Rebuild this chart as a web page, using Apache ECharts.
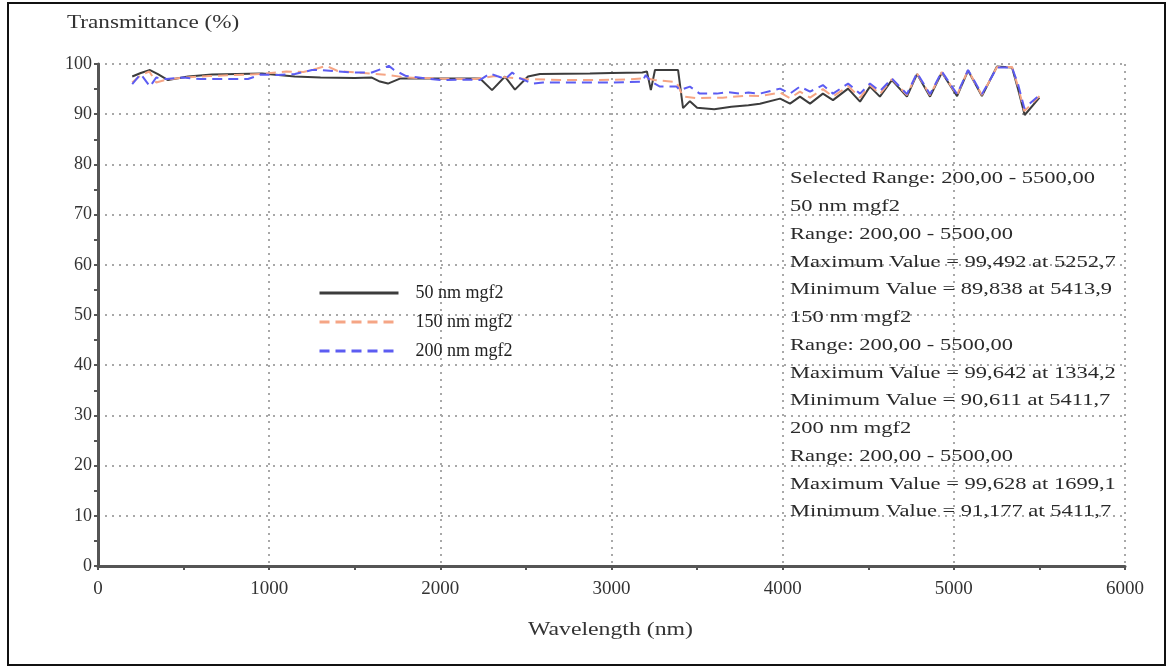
<!DOCTYPE html>
<html>
<head>
<meta charset="utf-8">
<script src="https://cdn.jsdelivr.net/npm/echarts@6/dist/echarts.min.js"></script>
<style>html,body{margin:0;padding:0;background:#fff;}#c{width:1171px;height:670px;}</style>
</head>
<body>
<div id="c"></div>
<script>
// ---- data ----
const seriesNames = ['50 nm mgf2', '150 nm mgf2', '200 nm mgf2'];

const wl50 = [200,250,304,350,409,526,666,958,1150,1300,1500,1600,1647,1694,1764,2000,2232,2302,2378,2436,2512,2582,2874,3000,3180,3207,3230,3254,3389,3418,3458,3500,3600,3700,3800,3867,3985,4043,4101,4160,4235,4294,4382,4452,4510,4568,4638,4726,4785,4861,4930,5019,5083,5164,5252,5340,5375,5414,5500];
const t50 = [97.5,98.2,98.8,98.0,96.8,97.5,97.9,98.1,97.5,97.3,97.2,97.3,96.5,96.1,97.1,97.1,97.1,94.8,97.5,94.9,97.5,98.0,98.1,98.2,98.3,98.5,94.8,98.8,98.8,91.2,92.6,91.3,91.0,91.5,91.8,92.1,93.1,92.1,93.5,92.1,94.1,92.8,95.1,92.5,95.5,93.5,96.8,93.5,98.0,93.5,98.3,93.6,98.7,93.6,99.49,99.3,95.0,89.84,93.3];

const wl150 = [200,250,300,340,400,500,650,800,950,1100,1200,1280,1334,1400,1550,1700,1800,2000,2200,2320,2400,2500,2700,2900,3100,3200,3250,3380,3418,3500,3650,3800,3867,3985,4043,4101,4160,4235,4294,4382,4452,4510,4568,4638,4726,4785,4861,4930,5019,5083,5164,5252,5340,5375,5412,5500];
const t150 = [96.3,97.8,98.5,96.3,96.9,97.3,97.6,97.8,98.0,98.5,98.4,99.1,99.64,98.6,98.2,97.8,97.3,97.1,97.0,97.6,97.3,97.0,96.8,96.8,96.9,97.2,96.8,96.4,93.5,93.2,93.3,93.7,93.6,94.3,93.2,94.5,93.3,95.0,93.5,95.6,93.3,95.8,94.0,97.0,93.8,98.1,93.8,98.4,93.8,98.8,93.8,99.4,99.4,95.5,90.61,93.6];

const wl200 = [200,250,304,340,400,500,600,724,876,950,1050,1150,1250,1300,1400,1500,1600,1677,1699,1730,1800,2000,2150,2230,2290,2330,2380,2420,2450,2540,2600,2800,3000,3100,3180,3200,3230,3283,3380,3400,3458,3515,3615,3675,3750,3800,3867,3985,4043,4101,4160,4235,4294,4382,4452,4510,4568,4638,4726,4785,4861,4930,5019,5083,5164,5252,5340,5375,5412,5500];
const t200 = [96.0,98.0,95.5,97.3,97.0,97.3,97.0,97.0,97.0,97.9,97.8,98.0,98.8,98.8,98.5,98.3,98.3,99.3,99.63,98.8,97.6,96.8,96.9,96.8,98.1,97.6,97.0,98.3,97.4,96.1,96.3,96.3,96.3,96.4,96.5,97.8,96.5,95.5,95.5,94.8,95.5,94.1,94.1,94.4,94.1,94.3,94.1,95.1,94.1,95.5,94.5,95.8,94.1,96.1,94.1,96.1,94.6,97.1,94.0,98.2,94.0,98.5,94.0,98.8,94.0,99.3,99.3,96.0,91.18,93.8];

const statsLines = [
  'Selected Range: 200,00 - 5500,00',
  '50 nm mgf2',
  'Range: 200,00 - 5500,00',
  'Maximum Value = 99,492 at 5252,7',
  'Minimum Value = 89,838 at 5413,9',
  '150 nm mgf2',
  'Range: 200,00 - 5500,00',
  'Maximum Value = 99,642 at 1334,2',
  'Minimum Value = 90,611 at 5411,7',
  '200 nm mgf2',
  'Range: 200,00 - 5500,00',
  'Maximum Value = 99,628 at 1699,1',
  'Minimum Value = 91,177 at 5411,7'
];
const yTitle = 'Transmittance (%)';
const xTitle = 'Wavelength (nm)';

// ---- chart ----
const zip = (xs, ys) => xs.map((x, i) => [x, ys[i]]);
const serif = 'Liberation Serif, Times New Roman, serif';
const chart = echarts.init(document.getElementById('c'), null, {renderer: 'canvas'});

const axisCommon = {
  axisLine: {show: true, onZero: false, lineStyle: {color: '#555', width: 3}},
  axisTick: {show: true, inside: false, length: 4, lineStyle: {color: '#555', width: 2}},
  minorTick: {show: true, splitNumber: 2, length: 4, lineStyle: {color: '#555', width: 2}},
  splitLine: {show: true, lineStyle: {color: '#a8a8a8', width: 2, type: [2, 5]}},
  axisLabel: {color: '#333', fontFamily: serif, fontSize: 18, formatter: v => String(v)}
};

chart.setOption({
  animation: false,
  backgroundColor: '#fff',
  grid: {left: 98, right: 46, top: 64, bottom: 104, containLabel: false},
  xAxis: Object.assign({}, axisCommon, {
    type: 'value', min: 0, max: 6000, interval: 1000,
    axisLabel: Object.assign({}, axisCommon.axisLabel, {margin: 14, fontSize: 19})
  }),
  yAxis: Object.assign({}, axisCommon, {
    type: 'value', min: 0, max: 100, interval: 10,
    axisLabel: Object.assign({}, axisCommon.axisLabel, {margin: 6})
  }),
  legend: {
    orient: 'vertical', left: 313, top: 279,
    itemWidth: 79, itemHeight: 14, itemGap: 11,
    itemStyle: {opacity: 0},
    lineStyle: {width: 3},
    textStyle: {fontFamily: serif, fontSize: 18, color: '#222', padding: [0, 0, 0, 12]},
    data: seriesNames
  },
  series: [
    {name: seriesNames[0], type: 'line', symbol: 'none', data: zip(wl50, t50),
     lineStyle: {color: '#3c3c3c', width: 2}, itemStyle: {color: '#3c3c3c'}},
    {name: seriesNames[1], type: 'line', symbol: 'none', data: zip(wl150, t150),
     lineStyle: {color: '#f5a585', width: 2, type: [10, 6]}, itemStyle: {color: '#f5a585'}},
    {name: seriesNames[2], type: 'line', symbol: 'none', data: zip(wl200, t200),
     lineStyle: {color: '#5c5cf2', width: 2, type: [10, 6]}, itemStyle: {color: '#5c5cf2'}}
  ],
  graphic: [
    {type: 'rect', shape: {x: 8, y: 3, width: 1157, height: 662}, z: 100,
     style: {fill: 'none', stroke: '#111', lineWidth: 2}},
    {type: 'text', x: 67, y: 14, scaleX: 1.22, z: 100,
     style: {text: yTitle, font: '19px ' + serif, fill: '#333'}},
    {type: 'text', x: 528, y: 621, scaleX: 1.25, z: 100,
     style: {text: xTitle, font: '19px ' + serif, fill: '#333'}},
    {type: 'text', x: 790, y: 165, scaleX: 1.25, scaleY: 0.95, z: 100,
     style: {text: statsLines.join('\n'), font: '18px ' + serif, lineHeight: 29.2, fill: '#2a2a2a'}}
  ]
});
</script>
</body>
</html>
